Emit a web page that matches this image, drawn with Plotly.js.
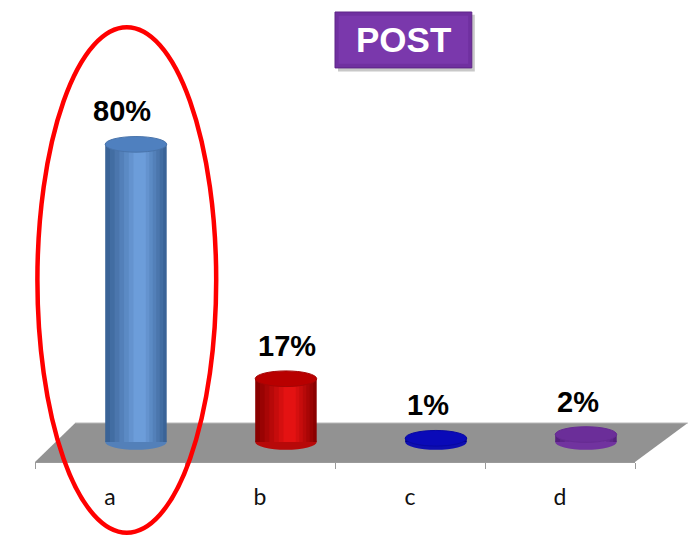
<!DOCTYPE html>
<html><head><meta charset="utf-8">
<script src="https://cdn.plot.ly/plotly-3.0.1.min.js"></script>
<style>html,body{margin:0;padding:0;background:#fff;}#chart{width:688px;height:535px;}</style>
</head><body><div id="chart"></div>
<script>
// ---- data ----
const categories = ['a', 'b', 'c', 'd'];
const values = [80, 17, 1, 2];
const valueLabels = ['80%', '17%', '1%', '2%'];
const chartTitle = 'POST';

// ---- styles ----
const darkColors  = ['#3A6397', '#8A0000', '#00008A', '#55207E'];
const lightColors = ['#6C9DDA', '#E41212', '#1C1CD6', '#8C46C0'];
const topColors   = ['#4F80BF', '#B80000', '#0A0AB8', '#6B2E99'];
const labelXShift = [-14, 1, -8, -8];
const barWidth = 0.41;
const capH = 4.2;

function hex2rgb(h){return [1,3,5].map(i=>parseInt(h.substr(i,2),16));}
function mix(a,b,t){const A=hex2rgb(a),B=hex2rgb(b);return 'rgb('+A.map((v,i)=>Math.round(v+(B[i]-v)*t)).join(',')+')';}

const traces = [];
const N = 7;
for (let k = 0; k < N; k++) {
  const t = k/(N-1);
  const w = barWidth*(1 - k/(N+0.5));
  traces.push({
    type:'bar', x: categories, y: values, xaxis:'x2', yaxis:'y',
    width: categories.map(()=>w),
    offset: categories.map(()=> -w/2 + barWidth*0.06*t),
    marker:{color: categories.map((c,i)=>mix(darkColors[i], lightColors[i], t)), line:{width:0}},
    hoverinfo:'skip', showlegend:false
  });
}

const shapes = [];
// floor (decoration)
shapes.push({type:'path', xref:'paper', yref:'paper', layer:'below',
  path:'M 0,0 L 1,0 L 1.088,0.0844 L 0.067,0.0844 Z', fillcolor:'#929292', line:{width:0}});
shapes.push({type:'line', xref:'paper', yref:'paper', layer:'below',
  x0:0.067, y0:0.0844, x1:1.088, y1:0.0844, line:{color:'#b8b8b8', width:1}});
// bottom caps and top caps from data
values.forEach((v,i)=>{
  shapes.push({type:'circle', xref:'x2', yref:'y', layer:'below',
    x0:i-barWidth/2, x1:i+barWidth/2, y0:-capH/2, y1:capH/2,
    fillcolor: mix(darkColors[i], lightColors[i], 0.5), line:{width:0}});
  shapes.push({type:'circle', xref:'x2', yref:'y', layer:'above',
    x0:i-barWidth/2, x1:i+barWidth/2, y0:v-capH/2, y1:v+capH/2,
    fillcolor: topColors[i], line:{color: mix(darkColors[i], lightColors[i], 0.3), width:1}});
});
// title box
shapes.push({type:'rect', xref:'paper', yref:'paper', x0:0.505, x1:0.733, y0:0.845, y1:0.968,
  fillcolor:'#c8c8c8', line:{width:0}, layer:'above'});
shapes.push({type:'rect', xref:'paper', yref:'paper', x0:0.5, x1:0.728, y0:0.853, y1:0.974,
  fillcolor:'#7030A0', line:{color:'#5E2488', width:1}, layer:'above'});
shapes.push({type:'rect', xref:'paper', yref:'paper', x0:0.506, x1:0.722, y0:0.862, y1:0.966,
  fillcolor:'#7A38AC', line:{width:0}, layer:'above'});
// red highlight ellipse
shapes.push({type:'circle', xref:'paper', yref:'paper', layer:'above',
  x0:0.004, x1:0.302, y0:-0.153, y1:0.941, line:{color:'#FF0000', width:4.5}, fillcolor:'rgba(0,0,0,0)'});

const annotations = values.map((v,i)=>({
  xref:'x2', yref:'y', x:i, y:v, text:valueLabels[i], showarrow:false,
  xanchor:'center', yanchor:'middle',
  yshift:33, xshift:labelXShift[i], font:{family:'Liberation Sans, Arial', size:29, color:'#000', weight:'bold'}
}));
annotations.push({xref:'paper', yref:'paper', x:0.614, y:0.9135, xanchor:'center', yanchor:'middle',
  text:'<b>'+chartTitle+'</b>', showarrow:false,
  font:{family:'Liberation Sans, Arial', size:35, color:'#fff'}});

const layout = {
  width:688, height:535,
  margin:{l:35, r:53, t:0, b:73},
  paper_bgcolor:'#fff', plot_bgcolor:'rgba(0,0,0,0)',
  barmode:'overlay', showlegend:false,
  xaxis:{type:'category', categoryarray:categories, range:[-0.5,3.5], tickson:'boundaries',
    ticks:'outside', ticklen:6, tickcolor:'#9a9a9a', showline:true, linecolor:'#9a9a9a', linewidth:1,
    showgrid:false, zeroline:false, fixedrange:true, ticklabelstandoff:14,
    tickfont:{family:'Lato, Open Sans, sans-serif', size:23, color:'#111'}},
  xaxis2:{type:'category', categoryarray:categories, overlaying:'x', range:[-0.673,3.327],
    visible:false, showgrid:false, zeroline:false},
  yaxis:{range:[-5.38,118.8], visible:false, showgrid:false, zeroline:false},
  shapes, annotations
};
Plotly.newPlot('chart', [{type:'scatter', x:categories, y:values.map(()=>null), xaxis:'x', showlegend:false, hoverinfo:'skip'}].concat(traces), layout, {displayModeBar:false, staticPlot:true});
</script></body></html>
